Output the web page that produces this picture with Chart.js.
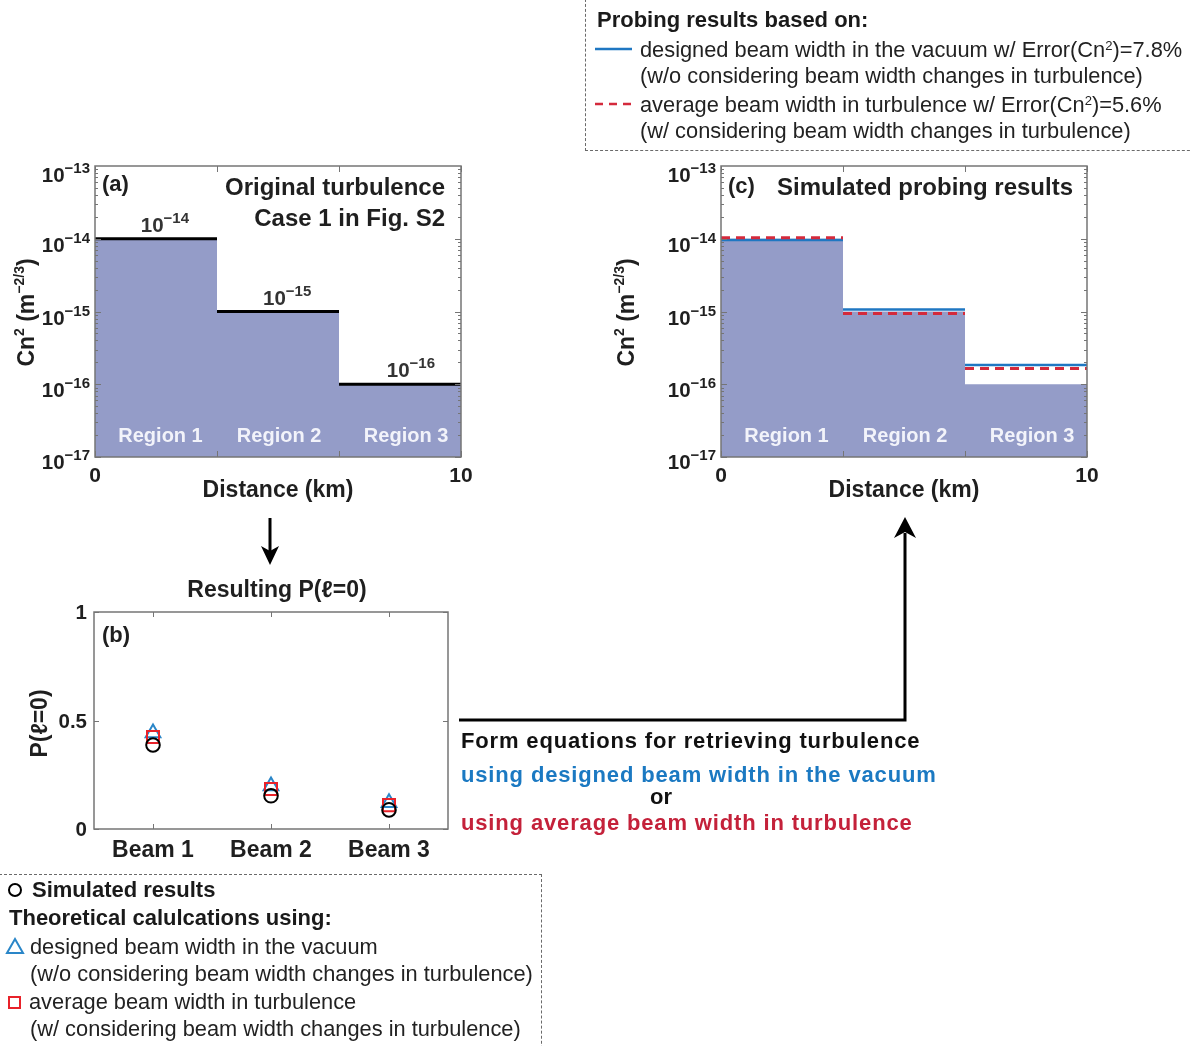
<!DOCTYPE html>
<html><head><meta charset="utf-8">
<script src="https://cdn.jsdelivr.net/npm/chart.js@4.4.0/dist/chart.umd.min.js"></script>
<style>
html,body{margin:0;padding:0;background:#fff;}
body{width:1191px;height:1046px;position:relative;overflow:hidden;font-family:"Liberation Sans",Arial,Helvetica,sans-serif;color:#1a1a1a;}
.wrap{position:absolute;}
.t{position:absolute;white-space:nowrap;line-height:1;}
.box{position:absolute;border:1px dashed #6a6a6a;box-sizing:border-box;}
sup.s{font-size:0.6em;vertical-align:0.55em;line-height:0;}
</style></head>
<body>
<div class="box" style="left:585px;top:-6px;width:640px;height:157px;"></div>
<div class="box" style="left:-6px;top:874px;width:548px;height:190px;"></div>

<div class="wrap" style="left:0;top:150px;width:480px;height:360px;"><canvas id="chartA" width="480" height="360"></canvas></div>
<div class="wrap" style="left:600px;top:150px;width:500px;height:360px;"><canvas id="chartC" width="500" height="360"></canvas></div>
<div class="wrap" style="left:0;top:570px;width:470px;height:295px;"><canvas id="chartB" width="470" height="295"></canvas></div>

<svg width="1191" height="1046" style="position:absolute;left:0;top:0;pointer-events:none;">
  <line x1="270" y1="518" x2="270" y2="552" stroke="#000" stroke-width="3"/>
  <polygon points="270,565 261,546 270,551 279,546" fill="#000"/>
  <polyline points="459,720 905,720 905,533" fill="none" stroke="#000" stroke-width="3"/>
  <polygon points="905,517 894,538 905,532 916,538" fill="#000"/>
  <line x1="595" y1="49" x2="632" y2="49" stroke="#1f77c2" stroke-width="2.5"/>
  <line x1="595" y1="104" x2="633" y2="104" stroke="#d42a3c" stroke-width="2.5" stroke-dasharray="8,6"/>
  <circle cx="15" cy="890" r="6" fill="none" stroke="#000" stroke-width="2"/>
  <polygon points="15,939 23,953 7,953" fill="none" stroke="#2a86c8" stroke-width="2"/>
  <rect x="9" y="997" width="11" height="11" fill="none" stroke="#e8222a" stroke-width="2"/>
</svg>

<div id="texts"></div>

<script>
// ---------------- data ----------------
const distanceEdges = [0, 10/3, 20/3, 10];          // km, region boundaries
const regionLabels = ['Region 1', 'Region 2', 'Region 3'];
const regionLabelX = [1.79, 5.03, 8.5];              // km, label centres
const originalCn2 = [1e-14, 1e-15, 1e-16];
const originalLabelExp = ['-14', '-15', '-16'];
const originalLabelX = [1.91, 5.25, 8.63];
const probedVacuumCn2 = [0.96e-14, 1.065e-15, 1.84e-16];
const probedAverageCn2 = [1.03e-14, 0.94e-15, 1.64e-16];
const logTickExps = [-17, -16, -15, -14, -13];
const distanceTickLabels = [[0, '0'], [10, '10']];

const beams = ['Beam 1', 'Beam 2', 'Beam 3'];
const simulatedP = [0.387, 0.153, 0.088];
const vacuumP = [0.442, 0.198, 0.121];
const averageP = [0.424, 0.184, 0.110];
const pTicks = [[0, '0'], [0.5, '0.5'], [1, '1']];

// ---------------- helpers ----------------
const FONT = '"Liberation Sans", Arial, Helvetica, sans-serif';
const INK = '#1f1f1f';
const FILL = 'rgb(148,156,200)';
const BLUE = '#1f77c2';
const RED = '#d42a3c';

function runs(ctx, parts, x, y, align) {
  let w = 0;
  parts.forEach(p => { ctx.font = `bold ${p.s}px ${FONT}`; p.w = ctx.measureText(p.t).width; w += p.w; });
  let x0 = align === 'right' ? x - w : align === 'center' ? x - w / 2 : x;
  ctx.textAlign = 'left'; ctx.textBaseline = 'alphabetic';
  parts.forEach(p => { ctx.font = `bold ${p.s}px ${FONT}`; ctx.fillText(p.t, x0, y + (p.dy || 0)); x0 += p.w; });
}
function pow10(ctx, exp, x, y, align) {
  runs(ctx, [{t: '10', s: 20.5}, {t: exp, s: 15, dy: -9}], x, y, align);
}
function txt(ctx, s, x, y, size, align, color) {
  ctx.font = `bold ${size}px ${FONT}`; ctx.textAlign = align || 'left'; ctx.textBaseline = 'alphabetic';
  ctx.fillStyle = color || INK; ctx.fillText(s, x, y);
}

function makeLogDecor(cfg) {
  return {
    id: 'logDecor',
    afterDatasetsDraw(chart) {
      const ctx = chart.ctx, ca = chart.chartArea, xs = chart.scales.x, ys = chart.scales.y;
      ctx.save();
      regionLabels.forEach((r, i) => txt(ctx, r, xs.getPixelForValue(regionLabelX[i]), ca.bottom - 15, 20, 'center', '#f2f3fa'));
      ctx.strokeStyle = '#757575'; ctx.lineWidth = 1.5;
      ctx.strokeRect(ca.left, ca.top, ca.right - ca.left, ca.bottom - ca.top);
      ctx.lineWidth = 1;
      ctx.beginPath();
      for (let e = logTickExps[0]; e < logTickExps[logTickExps.length - 1]; e++) {
        for (let m = 1; m < 10; m++) {
          const y = Math.round(ys.getPixelForValue(m * Math.pow(10, e))) + 0.5;
          const len = m === 1 ? 6 : 3;
          ctx.moveTo(ca.left, y); ctx.lineTo(ca.left + len, y);
          ctx.moveTo(ca.right, y); ctx.lineTo(ca.right - len, y);
        }
      }
      distanceEdges.forEach(v => {
        const x = Math.round(xs.getPixelForValue(v)) + 0.5;
        ctx.moveTo(x, ca.bottom); ctx.lineTo(x, ca.bottom - 6);
        ctx.moveTo(x, ca.top); ctx.lineTo(x, ca.top + 6);
      });
      ctx.stroke();
      ctx.fillStyle = INK;
      logTickExps.forEach((e, i) => {
        const y = ys.getPixelForValue(Math.pow(10, e));
        const off = i === logTickExps.length - 1 ? 16 : (i === 0 ? 12 : 13);
        pow10(ctx, String(e).replace('-', '\u2212'), ca.left - 5, y + off, 'right');
      });
      distanceTickLabels.forEach(([v, s]) => txt(ctx, s, xs.getPixelForValue(v), ca.bottom + 25, 21, 'center'));
      ctx.fillStyle = INK;
      txt(ctx, 'Distance (km)', (ca.left + ca.right) / 2, ca.bottom + 40, 23, 'center');
      ctx.save();
      ctx.translate(34, (ca.top + ca.bottom) / 2 + 1);
      ctx.rotate(-Math.PI / 2);
      ctx.fillStyle = INK;
      runs(ctx, [{t: 'Cn', s: 23}, {t: '2', s: 14, dy: -10}, {t: ' (m', s: 23}, {t: '\u22122/3', s: 14, dy: -10}, {t: ')', s: 23}], 0, 0, 'center');
      ctx.restore();
      if (cfg.extra) cfg.extra(ctx, ca, xs, ys);
      ctx.restore();
    }
  };
}

function stepFill(values) {
  const pts = [];
  values.forEach((v, i) => { pts.push({x: distanceEdges[i], y: v}); pts.push({x: distanceEdges[i + 1], y: v}); });
  return pts;
}
function segments(values) {
  const pts = [];
  values.forEach((v, i) => { pts.push({x: distanceEdges[i], y: v}); pts.push({x: distanceEdges[i + 1], y: v}); pts.push({x: distanceEdges[i + 1], y: null}); });
  return pts;
}

function logOptions(padding) {
  return {
    responsive: false, animation: false, events: [],
    layout: {padding},
    plugins: {legend: {display: false}, tooltip: {enabled: false}},
    scales: {
      x: {type: 'linear', min: 0, max: 10, display: false},
      y: {type: 'logarithmic', min: 1e-17, max: 1e-13, display: false}
    }
  };
}

// ---------------- chart (a) ----------------
new Chart(document.getElementById('chartA'), {
  type: 'line',
  data: {datasets: [
    {data: segments(originalCn2), borderColor: '#000', borderWidth: 3, pointRadius: 0, spanGaps: false, fill: false},
    {data: stepFill(originalCn2), borderWidth: 0, borderColor: 'rgba(0,0,0,0)', pointRadius: 0, backgroundColor: FILL, fill: 'start'}
  ]},
  options: logOptions({left: 95, top: 16, right: 19, bottom: 53}),
  plugins: [makeLogDecor({extra(ctx, ca, xs, ys) {
    ctx.fillStyle = '#333';
    originalCn2.forEach((v, i) => pow10(ctx, originalLabelExp[i].replace('-', '\u2212'), xs.getPixelForValue(originalLabelX[i]), ys.getPixelForValue(v) - 7, 'center'));
    txt(ctx, '(a)', ca.left + 7, ca.top + 25, 22, 'left');
    txt(ctx, 'Original turbulence', ca.right - 16, ca.top + 29, 24, 'right');
    txt(ctx, 'Case 1 in Fig. S2', ca.right - 16, ca.top + 60, 24, 'right');
  }})]
});

// ---------------- chart (c) ----------------
new Chart(document.getElementById('chartC'), {
  type: 'line',
  data: {datasets: [
    {data: segments(probedAverageCn2), borderColor: RED, borderWidth: 3, borderDash: [9, 6], pointRadius: 0, spanGaps: false, fill: false},
    {data: segments(probedVacuumCn2), borderColor: BLUE, borderWidth: 2.5, pointRadius: 0, spanGaps: false, fill: false},
    {data: stepFill(originalCn2), borderWidth: 0, borderColor: 'rgba(0,0,0,0)', pointRadius: 0, backgroundColor: FILL, fill: 'start'}
  ]},
  options: logOptions({left: 121, top: 16, right: 13, bottom: 53}),
  plugins: [makeLogDecor({extra(ctx, ca) {
    txt(ctx, '(c)', ca.left + 7, ca.top + 27, 22, 'left');
    txt(ctx, 'Simulated probing results', ca.right - 14, ca.top + 29, 24, 'right');
  }})]
});

// ---------------- chart (b) ----------------
const pDecor = {
  id: 'pDecor',
  afterDatasetsDraw(chart) {
    const ctx = chart.ctx, ca = chart.chartArea, xs = chart.scales.x, ys = chart.scales.y;
    ctx.save();
    ctx.strokeStyle = '#757575'; ctx.lineWidth = 1.5;
    ctx.strokeRect(ca.left, ca.top, ca.right - ca.left, ca.bottom - ca.top);
    ctx.lineWidth = 1; ctx.beginPath();
    pTicks.forEach(([v]) => { const y = Math.round(ys.getPixelForValue(v)) + 0.5; ctx.moveTo(ca.left, y); ctx.lineTo(ca.left + 5, y); ctx.moveTo(ca.right, y); ctx.lineTo(ca.right - 5, y); });
    beams.forEach((b, i) => { const x = Math.round(xs.getPixelForValue(i)) + 0.5; ctx.moveTo(x, ca.bottom); ctx.lineTo(x, ca.bottom - 5); ctx.moveTo(x, ca.top); ctx.lineTo(x, ca.top + 5); });
    ctx.stroke();
    pTicks.forEach(([v, s]) => txt(ctx, s, ca.left - 7, ys.getPixelForValue(v) + 7, 20.5, 'right'));
    beams.forEach((b, i) => txt(ctx, b, xs.getPixelForValue(i), ca.bottom + 28, 23, 'center'));
    txt(ctx, 'Resulting P(\u2113=0)', (ca.left + ca.right) / 2 + 6, ca.top - 15, 23, 'center');
    txt(ctx, '(b)', ca.left + 8, ca.top + 30, 22, 'left');
    ctx.save();
    ctx.translate(47, (ca.top + ca.bottom) / 2 + 3);
    ctx.rotate(-Math.PI / 2);
    txt(ctx, 'P(\u2113=0)', 0, 0, 23, 'center');
    ctx.restore();
    ctx.restore();
  }
};
new Chart(document.getElementById('chartB'), {
  type: 'line',
  data: {labels: beams, datasets: [
    {data: simulatedP, showLine: false, pointStyle: 'circle', pointRadius: 6.8, borderColor: '#000', borderWidth: 2, backgroundColor: 'rgba(0,0,0,0)'},
    {data: averageP, showLine: false, pointStyle: 'rect', pointRadius: 8.5, borderColor: '#e8222a', borderWidth: 2, backgroundColor: 'rgba(0,0,0,0)'},
    {data: vacuumP, showLine: false, pointStyle: 'triangle', pointRadius: 8.5, borderColor: '#2a86c8', borderWidth: 2, backgroundColor: 'rgba(0,0,0,0)'}
  ]},
  options: {
    responsive: false, animation: false, events: [],
    layout: {padding: {left: 94, top: 42, right: 22, bottom: 36}},
    plugins: {legend: {display: false}, tooltip: {enabled: false}},
    scales: {
      x: {type: 'category', offset: true, display: false},
      y: {type: 'linear', min: 0, max: 1, display: false}
    }
  },
  plugins: [pDecor]
});

// ---------------- HTML text ----------------
const T = document.getElementById('texts');
function addText(html, x, baseline, size, weight, color, extra) {
  const d = document.createElement('div');
  d.className = 't';
  d.innerHTML = html;
  d.style.left = x + 'px';
  d.style.top = (baseline - 0.8465 * size) + 'px';
  d.style.fontSize = size + 'px';
  d.style.fontWeight = weight;
  d.style.color = color || '#1a1a1a';
  if (extra) Object.assign(d.style, extra);
  T.appendChild(d);
  return d;
}
addText('Probing results based on:', 597, 28, 22, 'bold');
addText('designed beam width in the vacuum w/ Error(Cn<sup class="s">2</sup>)=7.8%', 640, 57, 21.8, 'normal', '#222');
addText('(w/o considering beam width changes in turbulence)', 640, 83, 21.8, 'normal', '#222');
addText('average beam width in turbulence w/ Error(Cn<sup class="s">2</sup>)=5.6%', 640, 112, 21.8, 'normal', '#222');
addText('(w/ considering beam width changes in turbulence)', 640, 138, 21.8, 'normal', '#222');
addText('Simulated results', 32, 898, 22, 'bold');
addText('Theoretical calulcations using:', 9, 926, 22, 'bold');
addText('designed beam width in the vacuum', 30, 954, 21.8, 'normal', '#222');
addText('(w/o considering beam width changes in turbulence)', 30, 981, 21.8, 'normal', '#222');
addText('average beam width in turbulence', 29, 1009, 21.8, 'normal', '#222');
addText('(w/ considering beam width changes in turbulence)', 30, 1036, 21.8, 'normal', '#222');
addText('Form equations for retrieving turbulence', 461, 749, 22, 'bold', '#111', {letterSpacing: '0.85px'});
addText('using designed beam width in the vacuum', 461, 783, 22, 'bold', '#1b79c2', {letterSpacing: '0.85px'});
addText('or', 661, 805, 22, 'bold', '#111', {transform: 'translateX(-50%)'});
addText('using average beam width in turbulence', 461, 831, 22, 'bold', '#c4213a', {letterSpacing: '0.85px'});
</script>
</body></html>
